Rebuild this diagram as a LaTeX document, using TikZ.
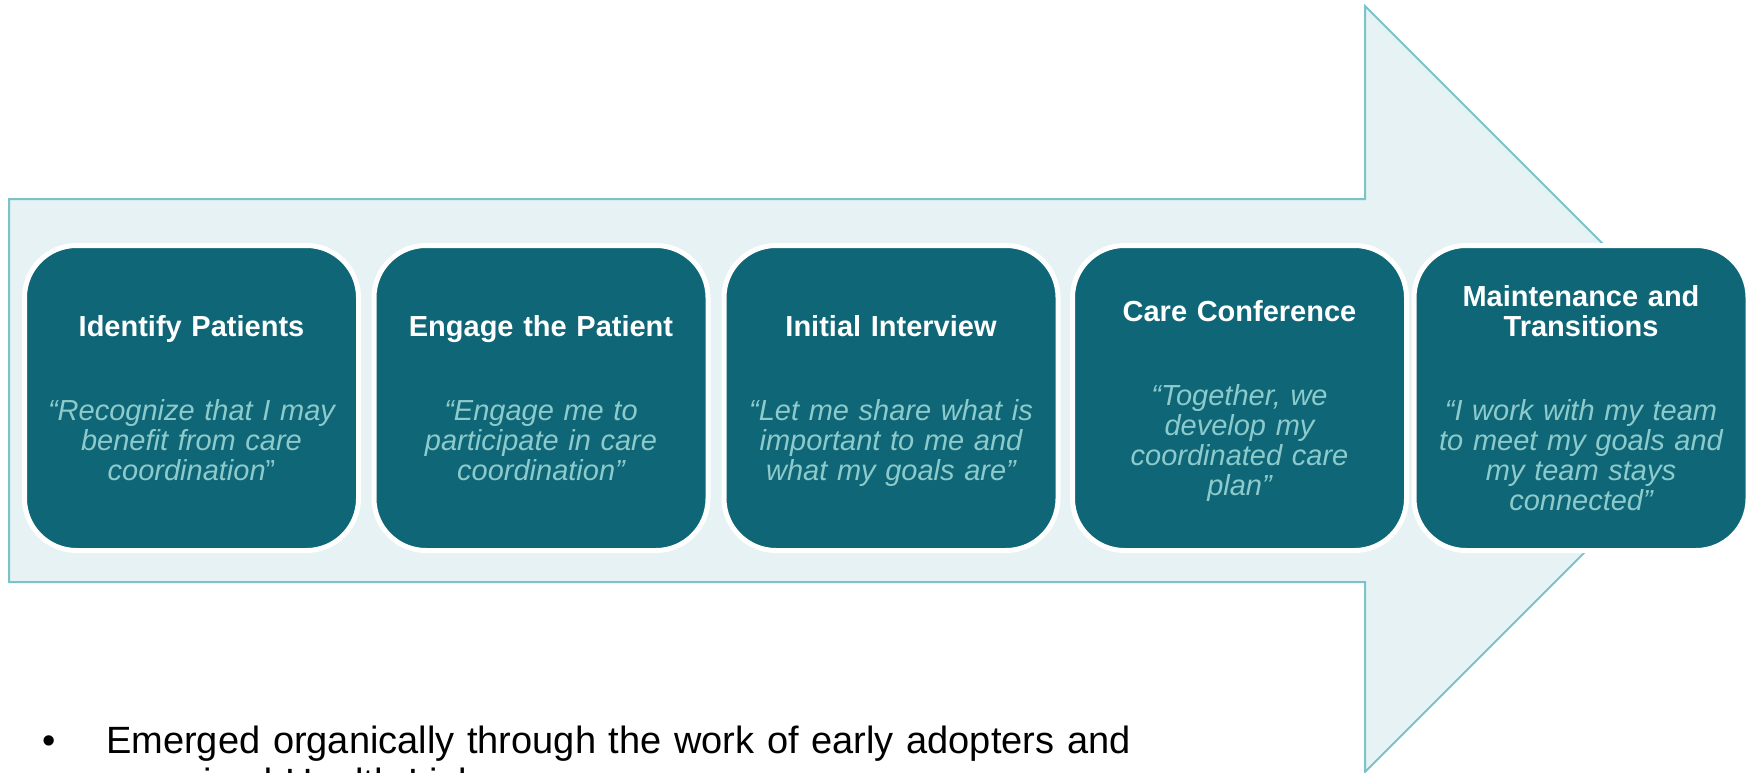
\documentclass[tikz,border=0pt]{standalone}
\usepackage{fontspec}
\setmainfont{Liberation Sans}
\usepackage{tikz}
\usetikzlibrary{positioning}

\definecolor{boxteal}{HTML}{0E6677}
\definecolor{quoteteal}{HTML}{8DCACB}
\definecolor{arrowfill}{HTML}{E6F2F4}
\definecolor{arrowline}{HTML}{7BC3C7}

\begin{document}
\begin{tikzpicture}[x=1pt,y=-1pt,node distance=15.5pt]

    \tikzset{stage/.style={rectangle, rounded corners=52pt, draw=white, line width=5pt, fill=boxteal,
            minimum width=334pt, minimum height=305pt, outer sep=0pt, inner sep=0pt,
            text width=330pt, align=center, font=\fontsize{29}{30}\selectfont,
            execute at begin node=\rule{0pt}{30pt}, execute at end node=\strut}}
    \tikzset{bullettext/.style={inner sep=0pt, font=\fontsize{38}{42}\selectfont}}

    \useasboundingbox (0,0) rectangle (1752,773);

    % big arrow behind the stages
    \filldraw[fill=arrowfill, draw=arrowline, line width=2pt]
        (9,199) -- (1365,199) -- (1365,6) -- (1748,389) -- (1365,772) -- (1365,582) -- (9,582) -- cycle;

    \node[stage] (identify) at (191.5,398) {{\bfseries\color{white}Identify Patients}\\[54pt]
        {\itshape\color{quoteteal}“Recognize that I may\\benefit from care\\coordination\textup{”}}};
    \node[stage] (engage) [right=of identify] {{\bfseries\color{white}Engage the Patient}\\[54pt]
        {\itshape\color{quoteteal}“Engage me to\\participate in care\\coordination”}};
    \node[stage] (interview) [right=16pt of engage] {{\bfseries\color{white}Initial Interview}\\[54pt]
        {\itshape\color{quoteteal}“Let me share what is\\important to me and\\what my goals are”}};
    \node[stage] (conference) [right=14.5pt of interview] {{\bfseries\color{white}Care Conference}\\[54pt]
        {\itshape\color{quoteteal}“Together, we\\develop my\\coordinated care\\plan”}};
    \node[stage] (transitions) [right=7.5pt of conference] {{\bfseries\color{white}Maintenance and\\Transitions}\\[54pt]
        {\itshape\color{quoteteal}“I work with my team\\to meet my goals and\\my team stays\\connected”}};

    % bullet under the arrow, cut by the page edge
    \node[bullettext, anchor=base] (dot) at (49,753) {•};
    \node[bullettext, anchor=base west, text width=1600pt, align=left] (emerged) at (106,753)
        {Emerged organically through the work of early adopters and\\organized Health Links};
\end{tikzpicture}
\end{document}
